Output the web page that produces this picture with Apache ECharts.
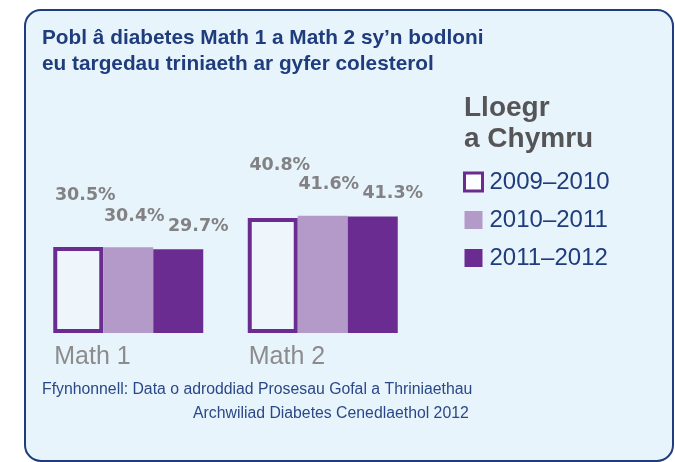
<!DOCTYPE html>
<html>
<head>
<meta charset="utf-8">
<script src="https://cdn.jsdelivr.net/npm/echarts@6/dist/echarts.min.js"></script>
<style>
  html, body { margin: 0; padding: 0; background: #fff; }
  #chart { width: 675px; height: 462px; }
</style>
</head>
<body>
<div id="chart"></div>
<script>
const categories = ['Math 1', 'Math 2'];
const seriesNames = ['2009–2010', '2010–2011', '2011–2012'];
const values2009 = [30.5, 40.8];
const values2010 = [30.4, 41.6];
const values2011 = [29.7, 41.3];

const PURPLE = '#6b2c91';
const LILAC = '#b39ac8';
const NAVY = '#1f3c7c';
const LABEL_GREY = '#828284';

const chart = echarts.init(document.getElementById('chart'), null, { renderer: 'canvas' });

// each series' value label sits staggered above its bar
function valueLabel(dx, dy) {
  return {
    show: true,
    position: 'top',
    distance: 0,
    offset: [dx, dy],
    formatter: p => p.value.toFixed(1) + '%',
    color: LABEL_GREY,
    fontFamily: 'DejaVu Sans',
    fontWeight: 'bold',
    fontSize: 17.5,
    lineHeight: 18,
  };
}

chart.setOption({
  backgroundColor: '#ffffff',
  animation: false,
  graphic: [{
    type: 'rect',
    z: -10,
    silent: true,
    shape: { x: 25, y: 10, width: 648, height: 451, r: 16 },
    style: { fill: '#e8f4fc', stroke: NAVY, lineWidth: 2 },
  }],
  title: [
    {
      text: 'Pobl â diabetes Math 1 a Math 2 sy’n bodloni\neu targedau triniaeth ar gyfer colesterol',
      left: 42, top: 25, padding: 0,
      textStyle: { color: NAVY, fontFamily: 'Liberation Sans', fontWeight: 'bold', fontSize: 20.8, lineHeight: 26 },
    },
    {
      text: 'Lloegr\na Chymru',
      left: 464, top: 93, padding: 0,
      textStyle: { color: '#555557', fontFamily: 'Liberation Sans', fontWeight: 'bold', fontSize: 28, lineHeight: 31 },
    },
    {
      text: 'Ffynhonnell: Data o adroddiad Prosesau Gofal a Thriniaethau',
      left: 42, top: 381, padding: 0,
      textStyle: { color: '#2a4888', fontFamily: 'Liberation Sans', fontWeight: 'normal', fontSize: 15.8, lineHeight: 18 },
    },
    {
      text: 'Archwiliad Diabetes Cenedlaethol 2012',
      left: 193, top: 405, padding: 0,
      textStyle: { color: '#2a4888', fontFamily: 'Liberation Sans', fontWeight: 'normal', fontSize: 15.8, lineHeight: 18 },
    },
  ],
  legend: {
    orient: 'vertical',
    left: 463, top: 170,
    padding: 0,
    itemWidth: 18, itemHeight: 18,
    itemGap: 14,
    icon: 'rect',
    textStyle: { color: NAVY, fontFamily: 'Liberation Sans', fontSize: 24, padding: [0, 0, 0, 2] },
    data: [
      { name: seriesNames[0], itemStyle: { color: '#ffffff', borderColor: PURPLE, borderWidth: 3 } },
      { name: seriesNames[1], itemStyle: { color: LILAC, borderWidth: 0 } },
      { name: seriesNames[2], itemStyle: { color: PURPLE, borderWidth: 0 } },
    ],
  },
  grid: { left: 31, right: 255, top: 192, bottom: 129 },
  xAxis: {
    type: 'category',
    data: categories,
    axisLine: { show: false },
    axisTick: { show: false },
    axisLabel: {
      margin: 11,
      formatter: v => '{c|' + v + '}',
      rich: {
        c: { width: 148, align: 'left', color: '#8c8c8e', fontFamily: 'Liberation Sans', fontSize: 25, lineHeight: 26 },
      },
    },
  },
  yAxis: {
    type: 'value',
    min: 0, max: 50,
    show: false,
  },
  series: [
    {
      name: seriesNames[0], type: 'bar', data: values2009,
      barWidth: 50, barGap: 0,
      itemStyle: { color: '#eef6fc', borderColor: PURPLE, borderWidth: 4 },
      label: valueLabel(7, -43),
    },
    {
      name: seriesNames[1], type: 'bar', data: values2010,
      barWidth: 50, barGap: 0,
      itemStyle: { color: LILAC },
      label: valueLabel(6, -22),
    },
    {
      name: seriesNames[2], type: 'bar', data: values2011,
      barWidth: 50, barGap: 0,
      itemStyle: { color: PURPLE },
      label: valueLabel(20, -14),
    },
  ],
});
</script>
</body>
</html>
